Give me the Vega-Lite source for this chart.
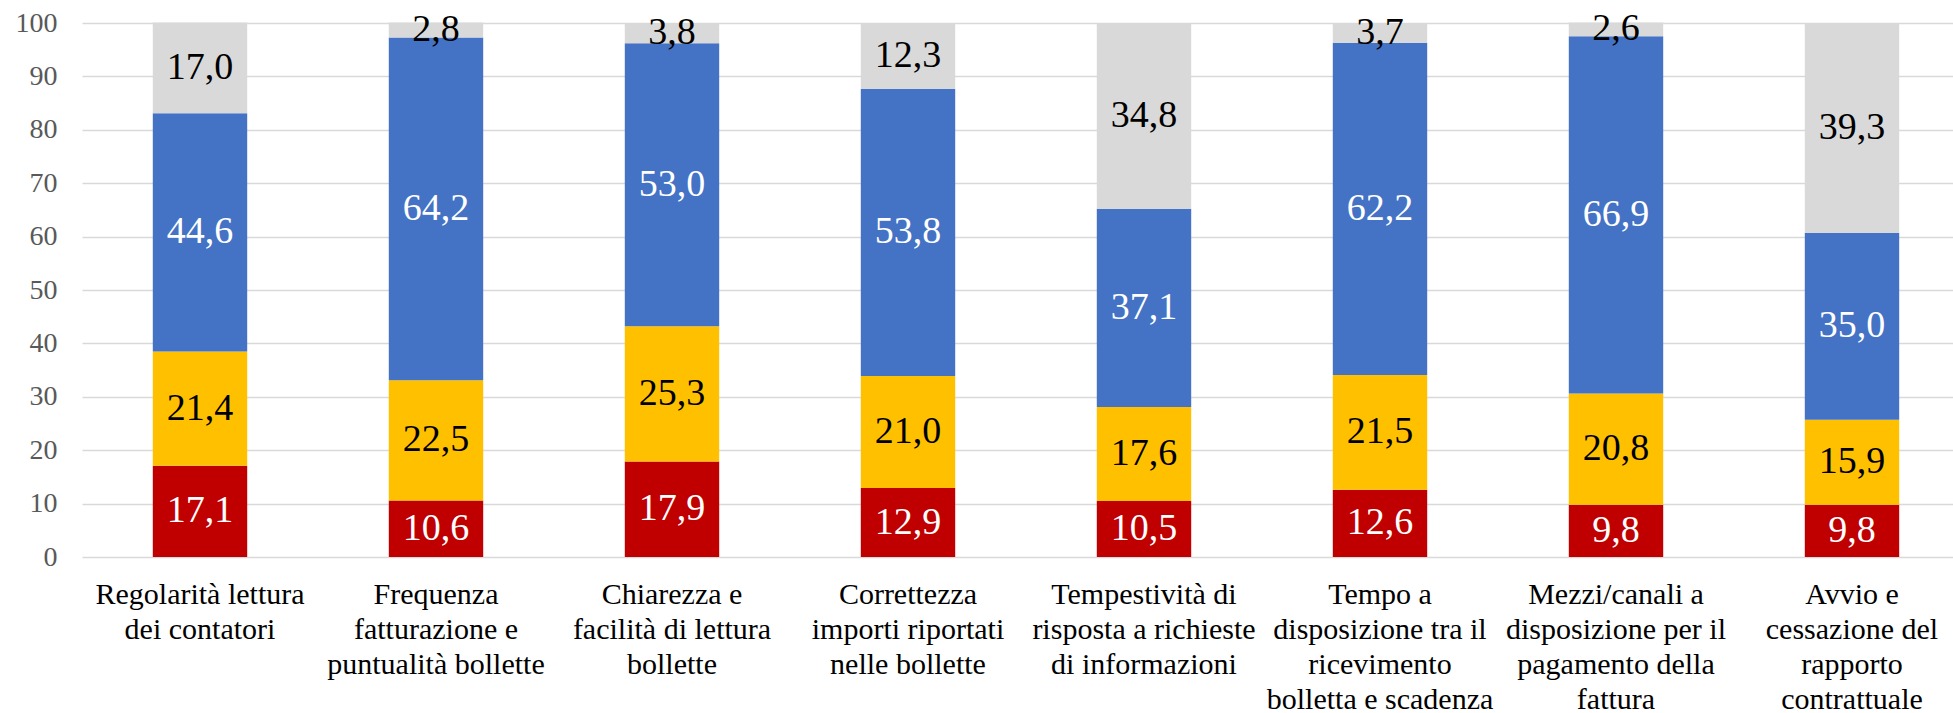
{
  "$schema": "https://vega.github.io/schema/vega-lite/v6.json",
  "width": 1871,
  "height": 534,
  "autosize": {"type": "none"},
  "padding": {"left": 82, "top": 23, "right": 0, "bottom": 156},
  "background": "white",
  "config": {
    "view": {"stroke": null},
    "locale": {"number": {"decimal": ",", "thousands": ".", "grouping": [3], "currency": ["", " €"]}},
    "font": "Liberation Serif"
  },
  "data": {
    "values": [
      {"cat": "Regolarità lettura|dei contatori", "series": "Per nulla soddisfatto", "ord": 1, "value": 17.1},
      {"cat": "Regolarità lettura|dei contatori", "series": "Poco soddisfatto", "ord": 2, "value": 21.4},
      {"cat": "Regolarità lettura|dei contatori", "series": "Abbastanza/molto soddisfatto", "ord": 3, "value": 44.6},
      {"cat": "Regolarità lettura|dei contatori", "series": "Non sa/non risponde", "ord": 4, "value": 17.0},
      {"cat": "Frequenza|fatturazione e|puntualità bollette", "series": "Per nulla soddisfatto", "ord": 1, "value": 10.6},
      {"cat": "Frequenza|fatturazione e|puntualità bollette", "series": "Poco soddisfatto", "ord": 2, "value": 22.5},
      {"cat": "Frequenza|fatturazione e|puntualità bollette", "series": "Abbastanza/molto soddisfatto", "ord": 3, "value": 64.2},
      {"cat": "Frequenza|fatturazione e|puntualità bollette", "series": "Non sa/non risponde", "ord": 4, "value": 2.8},
      {"cat": "Chiarezza e|facilità di lettura|bollette", "series": "Per nulla soddisfatto", "ord": 1, "value": 17.9},
      {"cat": "Chiarezza e|facilità di lettura|bollette", "series": "Poco soddisfatto", "ord": 2, "value": 25.3},
      {"cat": "Chiarezza e|facilità di lettura|bollette", "series": "Abbastanza/molto soddisfatto", "ord": 3, "value": 53.0},
      {"cat": "Chiarezza e|facilità di lettura|bollette", "series": "Non sa/non risponde", "ord": 4, "value": 3.8},
      {"cat": "Correttezza|importi riportati|nelle bollette", "series": "Per nulla soddisfatto", "ord": 1, "value": 12.9},
      {"cat": "Correttezza|importi riportati|nelle bollette", "series": "Poco soddisfatto", "ord": 2, "value": 21.0},
      {"cat": "Correttezza|importi riportati|nelle bollette", "series": "Abbastanza/molto soddisfatto", "ord": 3, "value": 53.8},
      {"cat": "Correttezza|importi riportati|nelle bollette", "series": "Non sa/non risponde", "ord": 4, "value": 12.3},
      {"cat": "Tempestività di|risposta a richieste|di informazioni", "series": "Per nulla soddisfatto", "ord": 1, "value": 10.5},
      {"cat": "Tempestività di|risposta a richieste|di informazioni", "series": "Poco soddisfatto", "ord": 2, "value": 17.6},
      {"cat": "Tempestività di|risposta a richieste|di informazioni", "series": "Abbastanza/molto soddisfatto", "ord": 3, "value": 37.1},
      {"cat": "Tempestività di|risposta a richieste|di informazioni", "series": "Non sa/non risponde", "ord": 4, "value": 34.8},
      {"cat": "Tempo a|disposizione tra il|ricevimento|bolletta e scadenza", "series": "Per nulla soddisfatto", "ord": 1, "value": 12.6},
      {"cat": "Tempo a|disposizione tra il|ricevimento|bolletta e scadenza", "series": "Poco soddisfatto", "ord": 2, "value": 21.5},
      {"cat": "Tempo a|disposizione tra il|ricevimento|bolletta e scadenza", "series": "Abbastanza/molto soddisfatto", "ord": 3, "value": 62.2},
      {"cat": "Tempo a|disposizione tra il|ricevimento|bolletta e scadenza", "series": "Non sa/non risponde", "ord": 4, "value": 3.7},
      {"cat": "Mezzi/canali a|disposizione per il|pagamento della|fattura", "series": "Per nulla soddisfatto", "ord": 1, "value": 9.8},
      {"cat": "Mezzi/canali a|disposizione per il|pagamento della|fattura", "series": "Poco soddisfatto", "ord": 2, "value": 20.8},
      {"cat": "Mezzi/canali a|disposizione per il|pagamento della|fattura", "series": "Abbastanza/molto soddisfatto", "ord": 3, "value": 66.9},
      {"cat": "Mezzi/canali a|disposizione per il|pagamento della|fattura", "series": "Non sa/non risponde", "ord": 4, "value": 2.6},
      {"cat": "Avvio e|cessazione del|rapporto|contrattuale", "series": "Per nulla soddisfatto", "ord": 1, "value": 9.8},
      {"cat": "Avvio e|cessazione del|rapporto|contrattuale", "series": "Poco soddisfatto", "ord": 2, "value": 15.9},
      {"cat": "Avvio e|cessazione del|rapporto|contrattuale", "series": "Abbastanza/molto soddisfatto", "ord": 3, "value": 35.0},
      {"cat": "Avvio e|cessazione del|rapporto|contrattuale", "series": "Non sa/non risponde", "ord": 4, "value": 39.3}
    ]
  },
  "transform": [
    {"stack": "value", "groupby": ["cat"], "sort": [{"field": "ord", "order": "ascending"}], "as": ["v0", "v1"]},
    {"calculate": "(datum.v0 + datum.v1) / 2", "as": "mid"}
  ],
  "encoding": {
    "x": {
      "field": "cat",
      "type": "nominal",
      "sort": null,
      "scale": {"paddingInner": 0.6, "paddingOuter": 0.3, "range": [0, 1888]},
      "axis": {
        "title": null,
        "domain": false,
        "ticks": false,
        "labelAngle": 0,
        "labelExpr": "split(datum.label, '|')",
        "labelFont": "Liberation Serif",
        "labelFontSize": 30,
        "labelLineHeight": 35,
        "labelColor": "#000000",
        "labelPadding": 22,
        "labelLimit": 0,
        "labelAlign": "center",
        "labelBaseline": "top",
        "labelOverlap": false,
        "labelBound": false
      }
    }
  },
  "layer": [
    {
      "mark": {"type": "bar"},
      "encoding": {
        "y": {
          "field": "v0",
          "type": "quantitative",
          "scale": {"domain": [0, 100], "nice": false},
          "axis": {
            "title": null,
            "values": [0, 10, 20, 30, 40, 50, 60, 70, 80, 90, 100],
            "domain": false,
            "ticks": false,
            "grid": true,
            "gridColor": "#D9D9D9",
            "gridWidth": 1.5,
            "labelFont": "Liberation Serif",
            "labelFontSize": 28,
            "labelColor": "#595959",
            "labelPadding": 25
          }
        },
        "y2": {"field": "v1"},
        "color": {
          "field": "series",
          "type": "nominal",
          "sort": ["Per nulla soddisfatto", "Poco soddisfatto", "Abbastanza/molto soddisfatto", "Non sa/non risponde"],
          "scale": {
            "domain": ["Per nulla soddisfatto", "Poco soddisfatto", "Abbastanza/molto soddisfatto", "Non sa/non risponde"],
            "range": ["#C00000", "#FFC000", "#4472C4", "#D9D9D9"]
          },
          "legend": null
        }
      }
    },
    {
      "mark": {"type": "text", "font": "Liberation Serif", "fontSize": 38, "baseline": "middle", "align": "center"},
      "encoding": {
        "y": {"field": "mid", "type": "quantitative"},
        "text": {"field": "value", "type": "quantitative", "format": ".1f"},
        "color": {
          "condition": {"test": "datum.ord == 1 || datum.ord == 3", "value": "#FFFFFF"},
          "value": "#000000"
        }
      }
    }
  ]
}
